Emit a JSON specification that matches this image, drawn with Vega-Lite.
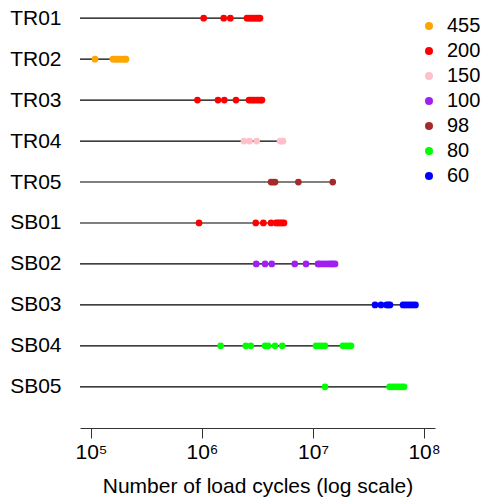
{
  "$schema": "https://vega.github.io/schema/vega-lite/v6.json",
  "autosize": "none",
  "width": 355,
  "height": 385,
  "padding": {"left": 80, "top": 10, "right": 49, "bottom": 104},
  "background": "white",
  "config": {
    "view": {"stroke": null},
    "font": "Liberation Sans",
    "axis": {"grid": false}
  },
  "data": {
    "values": [
      {"s": "TR01", "c": 1036000, "st": "200"},
      {"s": "TR01", "c": 1569000, "st": "200"},
      {"s": "TR01", "c": 1800000, "st": "200"},
      {"s": "TR01", "c": 2540000, "st": "200"},
      {"s": "TR01", "c": 2650000, "st": "200"},
      {"s": "TR01", "c": 2760000, "st": "200"},
      {"s": "TR01", "c": 2880000, "st": "200"},
      {"s": "TR01", "c": 3000000, "st": "200"},
      {"s": "TR01", "c": 3130000, "st": "200"},
      {"s": "TR01", "c": 3260000, "st": "200"},
      {"s": "TR01", "c": 3330000, "st": "200"},
      {"s": "TR02", "c": 108700, "st": "455"},
      {"s": "TR02", "c": 157800, "st": "455"},
      {"s": "TR02", "c": 164500, "st": "455"},
      {"s": "TR02", "c": 171500, "st": "455"},
      {"s": "TR02", "c": 178700, "st": "455"},
      {"s": "TR02", "c": 186400, "st": "455"},
      {"s": "TR02", "c": 194300, "st": "455"},
      {"s": "TR02", "c": 202500, "st": "455"},
      {"s": "TR02", "c": 206700, "st": "455"},
      {"s": "TR03", "c": 910000, "st": "200"},
      {"s": "TR03", "c": 1393000, "st": "200"},
      {"s": "TR03", "c": 1589000, "st": "200"},
      {"s": "TR03", "c": 2024000, "st": "200"},
      {"s": "TR03", "c": 2650000, "st": "200"},
      {"s": "TR03", "c": 2760000, "st": "200"},
      {"s": "TR03", "c": 2880000, "st": "200"},
      {"s": "TR03", "c": 3000000, "st": "200"},
      {"s": "TR03", "c": 3130000, "st": "200"},
      {"s": "TR03", "c": 3260000, "st": "200"},
      {"s": "TR03", "c": 3400000, "st": "200"},
      {"s": "TR03", "c": 3470000, "st": "200"},
      {"s": "TR04", "c": 2390000, "st": "150"},
      {"s": "TR04", "c": 2680000, "st": "150"},
      {"s": "TR04", "c": 3110000, "st": "150"},
      {"s": "TR04", "c": 5050000, "st": "150"},
      {"s": "TR04", "c": 5200000, "st": "150"},
      {"s": "TR04", "c": 5370000, "st": "150"},
      {"s": "TR05", "c": 4190000, "st": "98"},
      {"s": "TR05", "c": 4370000, "st": "98"},
      {"s": "TR05", "c": 4550000, "st": "98"},
      {"s": "TR05", "c": 7380000, "st": "98"},
      {"s": "TR05", "c": 15060000, "st": "98"},
      {"s": "SB01", "c": 940000, "st": "200"},
      {"s": "SB01", "c": 3050000, "st": "200"},
      {"s": "SB01", "c": 3570000, "st": "200"},
      {"s": "SB01", "c": 4190000, "st": "200"},
      {"s": "SB01", "c": 4650000, "st": "200"},
      {"s": "SB01", "c": 4840000, "st": "200"},
      {"s": "SB01", "c": 5050000, "st": "200"},
      {"s": "SB01", "c": 5260000, "st": "200"},
      {"s": "SB01", "c": 5480000, "st": "200"},
      {"s": "SB02", "c": 3080000, "st": "100"},
      {"s": "SB02", "c": 3700000, "st": "100"},
      {"s": "SB02", "c": 4250000, "st": "100"},
      {"s": "SB02", "c": 6850000, "st": "100"},
      {"s": "SB02", "c": 8650000, "st": "100"},
      {"s": "SB02", "c": 11090000, "st": "100"},
      {"s": "SB02", "c": 11560000, "st": "100"},
      {"s": "SB02", "c": 12300000, "st": "100"},
      {"s": "SB02", "c": 13100000, "st": "100"},
      {"s": "SB02", "c": 13900000, "st": "100"},
      {"s": "SB02", "c": 14500000, "st": "100"},
      {"s": "SB02", "c": 15100000, "st": "100"},
      {"s": "SB02", "c": 15800000, "st": "100"},
      {"s": "SB03", "c": 36200000, "st": "60"},
      {"s": "SB03", "c": 41000000, "st": "60"},
      {"s": "SB03", "c": 46000000, "st": "60"},
      {"s": "SB03", "c": 47900000, "st": "60"},
      {"s": "SB03", "c": 49400000, "st": "60"},
      {"s": "SB03", "c": 64700000, "st": "60"},
      {"s": "SB03", "c": 68100000, "st": "60"},
      {"s": "SB03", "c": 71800000, "st": "60"},
      {"s": "SB03", "c": 75600000, "st": "60"},
      {"s": "SB03", "c": 79600000, "st": "60"},
      {"s": "SB03", "c": 83800000, "st": "60"},
      {"s": "SB04", "c": 1472000, "st": "80"},
      {"s": "SB04", "c": 2480000, "st": "80"},
      {"s": "SB04", "c": 2750000, "st": "80"},
      {"s": "SB04", "c": 3700000, "st": "80"},
      {"s": "SB04", "c": 3940000, "st": "80"},
      {"s": "SB04", "c": 4550000, "st": "80"},
      {"s": "SB04", "c": 5290000, "st": "80"},
      {"s": "SB04", "c": 10640000, "st": "80"},
      {"s": "SB04", "c": 11330000, "st": "80"},
      {"s": "SB04", "c": 12060000, "st": "80"},
      {"s": "SB04", "c": 12830000, "st": "80"},
      {"s": "SB04", "c": 18620000, "st": "80"},
      {"s": "SB04", "c": 19800000, "st": "80"},
      {"s": "SB04", "c": 21100000, "st": "80"},
      {"s": "SB04", "c": 22000000, "st": "80"},
      {"s": "SB05", "c": 12830000, "st": "80"},
      {"s": "SB05", "c": 48900000, "st": "80"},
      {"s": "SB05", "c": 51500000, "st": "80"},
      {"s": "SB05", "c": 54200000, "st": "80"},
      {"s": "SB05", "c": 57100000, "st": "80"},
      {"s": "SB05", "c": 60100000, "st": "80"},
      {"s": "SB05", "c": 63300000, "st": "80"},
      {"s": "SB05", "c": 66100000, "st": "80"}
    ]
  },
  "layer": [
    {
      "transform": [
        {"aggregate": [{"op": "max", "field": "c", "as": "cmax"}], "groupby": ["s"]}
      ],
      "mark": {"type": "rule", "color": "black", "strokeWidth": 1.2},
      "encoding": {
        "y": {
          "field": "s",
          "type": "nominal",
          "sort": ["TR01", "TR02", "TR03", "TR04", "TR05", "SB01", "SB02", "SB03", "SB04", "SB05"]
        },
        "x": {"field": "cmax", "type": "quantitative"},
        "x2": {"datum": 79616}
      }
    },
    {
      "mark": {"type": "circle", "size": 45, "opacity": 1},
      "encoding": {
        "y": {
          "field": "s",
          "type": "nominal",
          "sort": ["TR01", "TR02", "TR03", "TR04", "TR05", "SB01", "SB02", "SB03", "SB04", "SB05"],
          "scale": {"type": "point", "padding": 0.2},
          "axis": {
            "title": null,
            "domain": false,
            "ticks": false,
            "labelFontSize": 21,
            "labelColor": "black",
            "labelPadding": 19
          }
        },
        "x": {
          "field": "c",
          "type": "quantitative",
          "scale": {"type": "log", "domain": [79616, 125600000], "nice": false, "zero": false},
          "axis": {
            "title": "Number of load cycles (log scale)",
            "titleFontSize": 21,
            "titleFontWeight": "normal",
            "titleColor": "black",
            "titlePadding": 13,
            "values": [100000, 1000000, 10000000, 100000000],
            "labelExpr": "'10' + (datum.value < 500000 ? '⁵' : datum.value < 5000000 ? '⁶' : datum.value < 50000000 ? '⁷' : '⁸')",
            "labelFontSize": 21,
            "labelColor": "black",
            "labelPadding": 3,
            "offset": 33,
            "tickSize": 10,
            "tickColor": "#333",
            "domainColor": "#333"
          }
        },
        "color": {
          "field": "st",
          "type": "nominal",
          "sort": ["455", "200", "150", "100", "98", "80", "60"],
          "scale": {
            "domain": ["455", "200", "150", "100", "98", "80", "60"],
            "range": ["#FFA500", "#FF0000", "#FFC0CB", "#A020F0", "#A52A2A", "#00FF00", "#0000FF"]
          },
          "legend": {
            "title": null,
            "orient": "none",
            "legendX": 339,
            "legendY": 6,
            "symbolType": "circle",
            "symbolSize": 64,
            "symbolStrokeWidth": 0,
            "symbolOpacity": 1,
            "labelFontSize": 20,
            "labelColor": "black",
            "labelOffset": 8,
            "rowPadding": 5
          }
        }
      }
    }
  ]
}
